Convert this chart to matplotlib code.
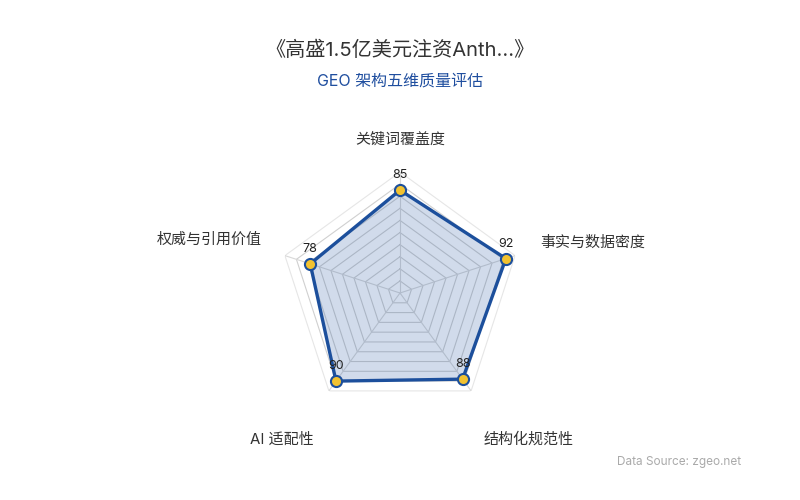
import numpy as np
import matplotlib.pyplot as plt

plt.rcParams['font.family'] = ['Inter', 'Noto Sans CJK SC', 'DejaVu Sans']

# donnees
dimensions = ['关键词覆盖度', '事实与数据密度', '结构化规范性', 'AI 适配性', '权威与引用价值']
scores = [85, 92, 88, 90, 78]
grid_levels = [10, 20, 30, 40, 50, 60, 70, 80, 90, 100]

titre = '《高盛1.5亿美元注资Anth...》'
sous_titre = 'GEO 架构五维质量评估'
source = 'Data Source: zgeo.net'

bleu = '#1c4f9c'
jaune = '#f2c230'

n = len(dimensions)
angles = np.linspace(0, 2 * np.pi, n, endpoint=False)
angles_ferme = np.append(angles, angles[0])

fig = plt.figure(figsize=(8, 5), dpi=100)
ax = fig.add_axes([0.34875, 0.172, 0.3025, 0.484], projection='polar')
ax.set_theta_offset(np.pi / 2)
ax.set_theta_direction(-1)
ax.set_ylim(0, 100)
ax.set_xticks([])
ax.set_yticks([])
ax.grid(False)
ax.spines['polar'].set_visible(False)
ax.patch.set_alpha(0)

# grille pentagonale
for lvl in grid_levels:
    c = '#e6e6e6' if lvl == 100 else '#d0d0d0'
    ax.plot(angles_ferme, [lvl] * (n + 1), color=c, lw=0.8, zorder=1)
for a in angles:
    ax.plot([a, a], [0, 100], color='#d8d8d8', lw=0.8, zorder=1)

# serie
vals = scores + [scores[0]]
ax.fill(angles_ferme, vals, color=bleu, alpha=0.2, zorder=2, lw=0)
ax.plot(angles_ferme, vals, color=bleu, lw=2.4, zorder=3)
ax.scatter(angles, scores, s=64, color=jaune, edgecolors=bleu, linewidths=1.5, zorder=4)

for a, v in zip(angles, scores):
    ax.annotate(str(v), (a, v), xytext=(0, 6.5), textcoords='offset points',
                ha='center', va='bottom', fontsize=9, color='#222222', zorder=5)

# etiquettes des axes
alignements = [('center', 'bottom', 0, -3), ('left', 'center', -2, 3),
               ('left', 'top', -3, -13), ('right', 'top', 1, -13),
               ('right', 'center', 3, 5)]
for a, lab, (ha, va, dx, dy) in zip(angles, dimensions, alignements):
    ax.annotate(lab, (a, 124), xytext=(dx, dy), textcoords='offset points',
                ha=ha, va=va, fontsize=10.8, color='#333333', annotation_clip=False)

fig.text(0.5, 0.9, titre, ha='center', va='center', fontsize=14.5, color='#333333')
fig.text(0.5, 0.838, sous_titre, ha='center', va='center', fontsize=11.5, color='#1f4e9f')
fig.text(0.926, 0.076, source, ha='right', va='center', fontsize=8.5, color='#aaaaaa')

fig.savefig('out.png', dpi=100)
